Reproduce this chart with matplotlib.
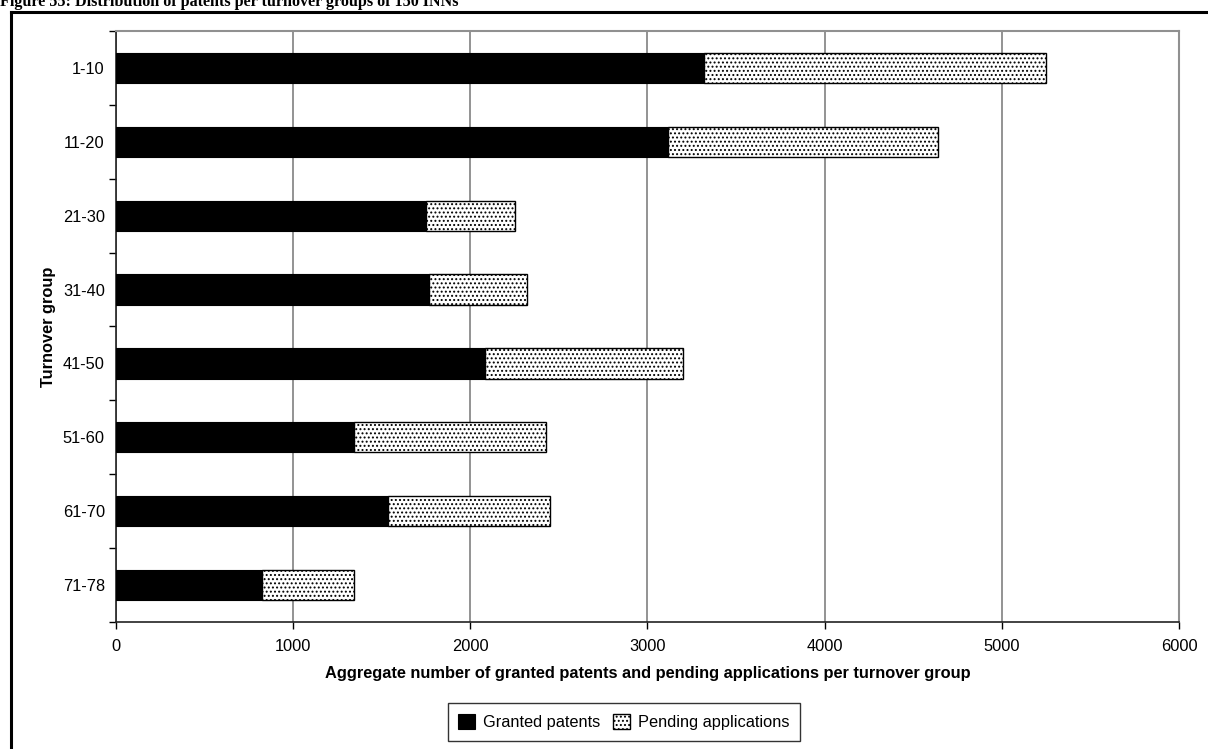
import numpy as np
import matplotlib
matplotlib.use('agg')
import matplotlib.pyplot as plt
from matplotlib.lines import Line2D

# Data
groups = ['1-10', '11-20', '21-30', '31-40', '41-50', '51-60', '61-70', '71-78']
granted = [3320, 3115, 1750, 1767, 2083, 1343, 1535, 824]
totals = [5250, 4640, 2252, 2320, 3200, 2427, 2450, 1343]
pending = [t - g for t, g in zip(totals, granted)]

plt.rcParams['font.family'] = ['Liberation Sans', 'DejaVu Sans']
plt.rcParams['hatch.linewidth'] = 0.9
plt.rcParams['hatch.color'] = '#222222'

fig = plt.figure(figsize=(12.08, 7.49), dpi=100)
ax = fig.add_axes([0.096, 0.1696, 0.88, 0.789])

y = np.arange(len(groups))
ax.barh(y, granted, height=0.41, color='black', edgecolor='black', linewidth=0.8,
        label='Granted patents', zorder=3)
ax.barh(y, pending, left=granted, height=0.41, color='white', edgecolor='black',
        linewidth=1.0, hatch='....', label='Pending applications', zorder=3)

ax.set_xlim(0, 6000)
ax.set_ylim(len(groups) - 0.5, -0.5)
ax.set_xticks(np.arange(0, 6001, 1000))
ax.set_yticks(y)
ax.set_yticklabels(groups)
ax.set_yticks(np.arange(-0.5, len(groups), 1), minor=True)
ax.tick_params(axis='y', which='major', length=0, pad=8, labelsize=11.8)
ax.tick_params(axis='y', which='minor', length=5, width=1)
ax.tick_params(axis='x', length=5, width=1, labelsize=11.8, pad=7, direction='out')
ax.xaxis.grid(True, color='#808080', linewidth=1.2, zorder=0)
ax.set_axisbelow(True)

for side in ['top', 'right']:
    ax.spines[side].set_color('#909090')
    ax.spines[side].set_linewidth(1.5)
for side in ['left', 'bottom']:
    ax.spines[side].set_color('#222222')
    ax.spines[side].set_linewidth(1.2)

ax.set_xlabel('Aggregate number of granted patents and pending applications per turnover group',
              fontsize=11.8, fontweight='bold', labelpad=9)
ax.set_ylabel('Turnover group', fontsize=11.8, fontweight='bold', labelpad=5)

leg = fig.legend(loc='center', bbox_to_anchor=(0.5165, 0.036), ncol=2, fontsize=11.8,
                 frameon=True, fancybox=False, edgecolor='black', handlelength=1.0,
                 handleheight=1.0, columnspacing=0.8, handletextpad=0.5, borderpad=0.65)
leg.get_frame().set_linewidth(1.0)

# outer frame and caption (the caption is cut by the top edge in the original)
fig.add_artist(Line2D([11 / 1208, 11 / 1208], [0, 1 - 12 / 749], color='black', linewidth=2.2,
                      transform=fig.transFigure))
fig.add_artist(Line2D([11 / 1208, 1], [1 - 12 / 749, 1 - 12 / 749], color='black', linewidth=2.2,
                      transform=fig.transFigure))
fig.text(0.0, 1 - 6 / 749, 'Figure 55: Distribution of patents per turnover groups of 150 INNs',
         fontsize=11.6, fontweight='bold', family='Liberation Serif', va='baseline', ha='left')

plt.savefig('out.png', dpi=100)
